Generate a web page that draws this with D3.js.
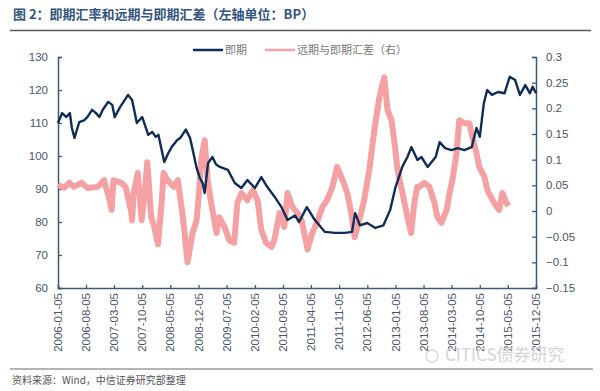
<!DOCTYPE html>
<html><head><meta charset="utf-8">
<script src="https://cdn.jsdelivr.net/npm/d3@7"></script>
<style>body{margin:0;background:#fff}svg{display:block}</style>
</head><body><svg id="c" width="600" height="391"></svg>
<script>
const titleText = "图 2：即期汇率和远期与即期汇差（左轴单位：BP）";
const sourceText = "资料来源：Wind，中信证券研究部整理";
const legendNames = ["即期", "远期与即期汇差（右）"];
const xTickLabels = ["2006-01-05","2006-08-05","2007-03-05","2007-10-05","2008-05-05","2008-12-05","2009-07-05","2010-02-05","2010-09-05","2011-04-05","2011-11-05","2012-06-05","2013-01-05","2013-08-05","2014-03-05","2014-10-05","2015-05-05","2015-12-05"];
const leftTicks = [60,70,80,90,100,110,120,130];
const rightTicks = [-0.15,-0.1,-0.05,0,0.05,0.1,0.15,0.2,0.25,0.3];

const spotDates = ["2006-01-05","2006-02-05","2006-03-10","2006-04-05","2006-04-20","2006-05-10","2006-06-15","2006-07-25","2006-08-15","2006-09-20","2006-10-20","2006-11-15","2006-12-10","2007-01-20","2007-02-20","2007-03-10","2007-04-20","2007-05-10","2007-06-20","2007-07-20","2007-08-10","2007-08-25","2007-10-05","2007-10-25","2007-11-20","2007-12-20","2008-01-15","2008-02-05","2008-03-20","2008-04-20","2008-05-15","2008-06-25","2008-07-20","2008-08-30","2008-10-01","2008-10-25","2008-11-20","2008-12-15","2009-01-05","2009-01-20","2009-02-15","2009-03-20","2009-04-15","2009-05-15","2009-07-15","2009-09-05","2009-10-25","2009-12-10","2010-02-05","2010-03-25","2010-05-10","2010-07-05","2010-08-25","2010-10-10","2010-12-05","2011-01-05","2011-03-05","2011-05-05","2011-07-20","2011-10-05","2011-12-20","2012-02-10","2012-03-05","2012-04-10","2012-06-05","2012-08-05","2012-10-05","2012-11-25","2013-01-05","2013-02-25","2013-04-05","2013-05-05","2013-06-20","2013-07-20","2013-09-05","2013-11-05","2013-12-05","2014-01-15","2014-03-05","2014-04-20","2014-06-10","2014-08-05","2014-09-10","2014-10-05","2014-11-05","2014-11-30","2015-01-05","2015-02-20","2015-04-10","2015-05-20","2015-06-30","2015-08-05","2015-09-15","2015-10-20","2015-11-10","2015-12-05"];
const spotValues = [110,113,111.8,113,108.5,105.5,110.3,110.9,111.8,114,113,111.8,114,116.4,115.5,111.8,114.8,116,118.5,117,113,110,111.8,109.4,106.4,107.3,105.8,106.4,98.2,100.9,102.7,104.8,105.5,108,105.5,101.2,96.4,93.3,91.8,88.8,97.9,99.7,97.5,96.7,95.8,91.8,90.3,92.7,90.3,93.6,90.6,87.6,84.5,80.6,82,80,84.5,80.6,77,76.7,76.7,77,82.7,79,79.7,78.2,79,83.6,90.6,96.7,99.7,102.7,98.8,99.7,96.7,99.7,104.2,102.4,101.8,102.4,101.8,102.7,108.5,105.8,116,120,118.5,119.4,119,124,123,118.5,121.5,119,121,119];

const spreadDates = ["2006-01-05","2006-02-20","2006-04-01","2006-05-05","2006-07-01","2006-08-15","2006-11-01","2006-12-20","2007-02-01","2007-02-15","2007-03-01","2007-05-01","2007-06-01","2007-07-12","2007-07-20","2007-08-01","2007-09-01","2007-10-01","2007-10-25","2007-11-12","2007-12-12","2008-01-05","2008-02-01","2008-03-01","2008-03-15","2008-04-12","2008-06-01","2008-07-01","2008-08-01","2008-08-20","2008-09-12","2008-10-20","2008-11-20","2008-12-12","2008-12-25","2009-01-20","2009-02-12","2009-03-10","2009-04-20","2009-05-10","2009-06-20","2009-07-25","2009-09-01","2009-09-25","2009-10-25","2009-12-10","2010-01-20","2010-02-25","2010-03-25","2010-05-01","2010-06-10","2010-07-01","2010-08-10","2010-09-15","2010-10-10","2010-11-15","2010-12-25","2011-01-25","2011-03-10","2011-04-15","2011-05-20","2011-07-01","2011-08-05","2011-09-15","2011-10-20","2011-12-01","2012-01-05","2012-02-05","2012-03-01","2012-04-05","2012-05-12","2012-06-20","2012-08-01","2012-09-05","2012-10-12","2012-11-05","2012-12-05","2013-01-01","2013-01-20","2013-02-27","2013-04-05","2013-05-03","2013-05-27","2013-06-18","2013-07-03","2013-08-12","2013-09-18","2013-10-27","2013-11-18","2013-12-18","2014-01-27","2014-02-18","2014-03-12","2014-04-12","2014-05-03","2014-06-10","2014-07-18","2014-08-10","2014-09-10","2014-10-01","2014-11-10","2014-12-01","2015-01-10","2015-02-10","2015-03-01","2015-03-25","2015-04-25","2015-05-10"];
const spreadValues = [0.051,0.045,0.055,0.047,0.055,0.045,0.047,0.06,0.02,0.002,0.06,0.055,0.047,0.0,-0.018,0.035,0.074,-0.018,0.04,0.095,-0.012,-0.031,-0.065,0.021,0.074,0.06,0.047,0.06,0.002,-0.04,-0.1,-0.043,-0.018,0.047,0.1,0.138,0.06,0.016,-0.043,-0.012,-0.031,-0.057,-0.062,0.016,0.035,0.021,0.041,0.021,-0.037,-0.062,-0.07,-0.057,-0.004,-0.031,0.035,0.008,-0.004,-0.018,-0.075,-0.043,-0.023,0.008,0.021,0.047,0.086,0.06,0.035,-0.004,-0.051,-0.018,0.021,0.08,0.164,0.222,0.26,0.197,0.177,0.125,0.08,0.035,-0.012,-0.043,0.016,0.047,0.047,0.055,0.047,0.016,-0.012,-0.023,0.002,0.035,0.06,0.113,0.177,0.171,0.171,0.144,0.113,0.086,0.066,0.041,0.021,0.008,0.002,0.035,0.016,0.01];

const parse = d3.timeParse("%Y-%m-%d");
const svg = d3.select("#c");
const L = 58, R = 536, T = 57, B = 288;
const axisColor = "#3d5a7a", textColor = "#4a5566";
const numFont = "'Liberation Sans', Arial, sans-serif";
const cjkFont = "'Noto Sans CJK SC', sans-serif";

const x = d3.scaleTime().domain([parse(xTickLabels[0]), parse(xTickLabels[xTickLabels.length-1])]).range([L, R]);
const yL = d3.scaleLinear().domain([60,130]).range([B, T]);
const yR = d3.scaleLinear().domain([-0.15,0.3]).range([B, T]);

// title
svg.append("text").attr("x", 13).attr("y", 19).attr("font-family", cjkFont).attr("font-size", 13).attr("font-weight", 700).attr("fill", "#34557f").text(titleText);
svg.append("line").attr("x1", 10).attr("x2", 591).attr("y1", 30.5).attr("y2", 30.5).attr("stroke", "#5a5a5a").attr("stroke-width", 1.5);

// legend
const lg = svg.append("g");
lg.append("line").attr("x1", 193).attr("x2", 223).attr("y1", 50).attr("y2", 50).attr("stroke", "#0f2d57").attr("stroke-width", 2.5);
lg.append("text").attr("x", 225).attr("y", 54).attr("font-family", cjkFont).attr("font-size", 11).attr("fill", "#777").text(legendNames[0]);
lg.append("line").attr("x1", 265).attr("x2", 295).attr("y1", 50).attr("y2", 50).attr("stroke", "#f5a0a2").attr("stroke-width", 2.5);
lg.append("text").attr("x", 297).attr("y", 54).attr("font-family", cjkFont).attr("font-size", 11).attr("fill", "#777").text(legendNames[1]);

// axes
const axL = svg.append("g").attr("transform", `translate(${L},0)`).call(d3.axisRight(yL).tickValues(leftTicks).tickSize(4).tickFormat(""));
const axR = svg.append("g").attr("transform", `translate(${R},0)`).call(d3.axisLeft(yR).tickValues(rightTicks).tickSize(4).tickFormat(""));
const axB = svg.append("g").attr("transform", `translate(0,${B})`).call(d3.axisTop(x).tickValues(xTickLabels.map(parse)).tickSize(3).tickFormat(""));
[axL, axR, axB].forEach(a => { a.selectAll("path,line").attr("stroke", axisColor).attr("stroke-width", 1.3); a.select(".domain").attr("stroke-width", 1.5); });

svg.append("g").selectAll("text").data(leftTicks).join("text")
  .attr("x", 48).attr("y", d => yL(d) + 4).attr("text-anchor", "end")
  .attr("font-family", numFont).attr("font-size", 11.5).attr("fill", textColor).text(d => d);
svg.append("g").selectAll("text").data(rightTicks).join("text")
  .attr("x", 546).attr("y", d => yR(d) + 4).attr("text-anchor", "start")
  .attr("font-family", numFont).attr("font-size", 11.5).attr("fill", textColor).text(d => d3.format("")(d));
svg.append("g").selectAll("text").data(xTickLabels).join("text")
  .attr("transform", d => `translate(${x(parse(d)) + 4},${B + 5}) rotate(-90)`)
  .attr("text-anchor", "end")
  .attr("font-family", numFont).attr("font-size", 11.5).attr("fill", textColor).text(d => d);

// series
const spread = spreadDates.map((d, i) => [parse(d), spreadValues[i]]);
const spot = spotDates.map((d, i) => [parse(d), spotValues[i]]);
svg.append("path").datum(spread).attr("fill", "none").attr("stroke", "#f5a0a2").attr("stroke-width", 6).attr("stroke-linejoin", "round")
  .attr("d", d3.line().x(d => x(d[0])).y(d => yR(d[1])));
svg.append("path").datum(spot).attr("fill", "none").attr("stroke", "#0f2d57").attr("stroke-width", 2.4).attr("stroke-linejoin", "round")
  .attr("d", d3.line().x(d => x(d[0])).y(d => yL(d[1])));

// watermark & footer
svg.append("text").attr("x", 445).attr("y", 361).attr("font-family", cjkFont).attr("font-size", 17).attr("fill", "#d4d4d4").text("CITICS债券研究");
svg.append("circle").attr("cx", 432).attr("cy", 356).attr("r", 6).attr("fill", "none").attr("stroke", "#d8d8d8").attr("stroke-width", 1.5);
svg.append("line").attr("x1", 10).attr("x2", 593).attr("y1", 369).attr("y2", 369).attr("stroke", "#6a6a6a").attr("stroke-width", 1.2);
svg.append("text").attr("x", 12).attr("y", 384).attr("font-family", cjkFont).attr("font-size", 10).attr("fill", "#555").text(sourceText);
</script></body></html>
